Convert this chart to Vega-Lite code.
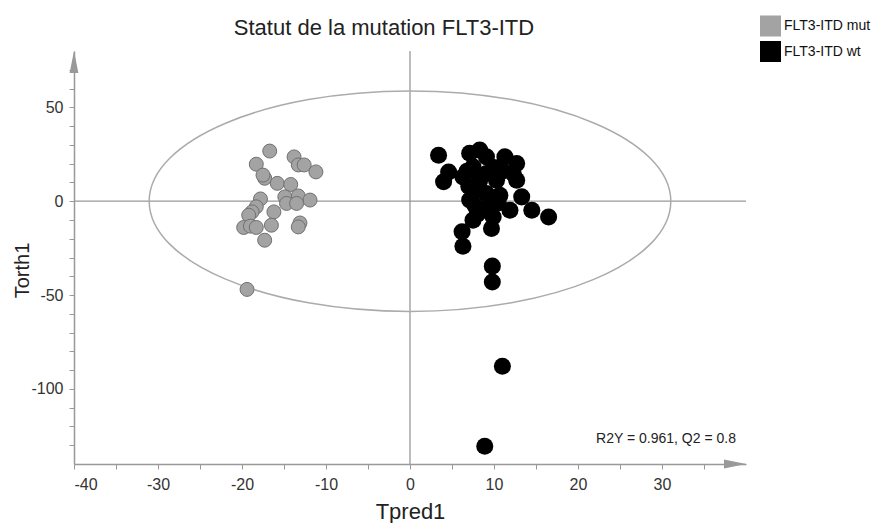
{
  "$schema": "https://vega.github.io/schema/vega-lite/v6.json",
  "width": 672,
  "height": 413,
  "autosize": "none",
  "padding": {"left": 74, "top": 51, "right": 128, "bottom": 59},
  "background": "white",
  "config": {"view": {"stroke": null}, "font": "Liberation Sans"},
  "title": {"text": "Statut de la mutation FLT3-ITD", "font": "Liberation Sans", "fontSize": 22, "fontWeight": "normal", "color": "#222222", "anchor": "middle", "dx": -26, "offset": -24},
  "datasets": {
    "pts": [
      {"x": -16.7, "y": 26.7, "g": "FLT3-ITD mut"},
      {"x": -18.3, "y": 19.7, "g": "FLT3-ITD mut"},
      {"x": -13.8, "y": 23.6, "g": "FLT3-ITD mut"},
      {"x": -13.3, "y": 19.3, "g": "FLT3-ITD mut"},
      {"x": -12.6, "y": 19.3, "g": "FLT3-ITD mut"},
      {"x": -11.2, "y": 15.6, "g": "FLT3-ITD mut"},
      {"x": -17.3, "y": 12.2, "g": "FLT3-ITD mut"},
      {"x": -17.5, "y": 13.9, "g": "FLT3-ITD mut"},
      {"x": -15.8, "y": 9.5, "g": "FLT3-ITD mut"},
      {"x": -14.2, "y": 8.9, "g": "FLT3-ITD mut"},
      {"x": -14.9, "y": 2.3, "g": "FLT3-ITD mut"},
      {"x": -13.3, "y": 2.8, "g": "FLT3-ITD mut"},
      {"x": -11.9, "y": 0.6, "g": "FLT3-ITD mut"},
      {"x": -14.7, "y": -1.2, "g": "FLT3-ITD mut"},
      {"x": -13.5, "y": -1.2, "g": "FLT3-ITD mut"},
      {"x": -17.8, "y": 1.2, "g": "FLT3-ITD mut"},
      {"x": -18.3, "y": -3.0, "g": "FLT3-ITD mut"},
      {"x": -18.8, "y": -5.7, "g": "FLT3-ITD mut"},
      {"x": -19.2, "y": -7.5, "g": "FLT3-ITD mut"},
      {"x": -16.2, "y": -5.7, "g": "FLT3-ITD mut"},
      {"x": -16.5, "y": -12.8, "g": "FLT3-ITD mut"},
      {"x": -19.8, "y": -14.0, "g": "FLT3-ITD mut"},
      {"x": -19.0, "y": -13.3, "g": "FLT3-ITD mut"},
      {"x": -18.3, "y": -14.0, "g": "FLT3-ITD mut"},
      {"x": -17.3, "y": -20.8, "g": "FLT3-ITD mut"},
      {"x": -13.1, "y": -11.6, "g": "FLT3-ITD mut"},
      {"x": -13.3, "y": -13.7, "g": "FLT3-ITD mut"},
      {"x": -19.4, "y": -47.0, "g": "FLT3-ITD mut"},
      {"x": 3.4, "y": 24.5, "g": "FLT3-ITD wt"},
      {"x": 4.6, "y": 15.6, "g": "FLT3-ITD wt"},
      {"x": 4.0, "y": 10.3, "g": "FLT3-ITD wt"},
      {"x": 7.1, "y": 25.5, "g": "FLT3-ITD wt"},
      {"x": 8.3, "y": 27.2, "g": "FLT3-ITD wt"},
      {"x": 9.1, "y": 23.6, "g": "FLT3-ITD wt"},
      {"x": 11.3, "y": 23.6, "g": "FLT3-ITD wt"},
      {"x": 12.7, "y": 20.1, "g": "FLT3-ITD wt"},
      {"x": 12.3, "y": 14.8, "g": "FLT3-ITD wt"},
      {"x": 12.7, "y": 11.2, "g": "FLT3-ITD wt"},
      {"x": 10.3, "y": 11.2, "g": "FLT3-ITD wt"},
      {"x": 7.5, "y": 18.3, "g": "FLT3-ITD wt"},
      {"x": 6.3, "y": 12.9, "g": "FLT3-ITD wt"},
      {"x": 8.3, "y": 11.2, "g": "FLT3-ITD wt"},
      {"x": 7.1, "y": 0.6, "g": "FLT3-ITD wt"},
      {"x": 9.1, "y": 4.1, "g": "FLT3-ITD wt"},
      {"x": 10.7, "y": 3.2, "g": "FLT3-ITD wt"},
      {"x": 11.9, "y": -4.8, "g": "FLT3-ITD wt"},
      {"x": 13.3, "y": 2.3, "g": "FLT3-ITD wt"},
      {"x": 14.5, "y": -4.8, "g": "FLT3-ITD wt"},
      {"x": 16.5, "y": -8.4, "g": "FLT3-ITD wt"},
      {"x": 7.5, "y": -10.1, "g": "FLT3-ITD wt"},
      {"x": 8.7, "y": -4.8, "g": "FLT3-ITD wt"},
      {"x": 9.9, "y": -8.4, "g": "FLT3-ITD wt"},
      {"x": 9.7, "y": -14.5, "g": "FLT3-ITD wt"},
      {"x": 6.2, "y": -16.3, "g": "FLT3-ITD wt"},
      {"x": 6.3, "y": -24.0, "g": "FLT3-ITD wt"},
      {"x": 8.1, "y": 5.9, "g": "FLT3-ITD wt"},
      {"x": 9.1, "y": 14.8, "g": "FLT3-ITD wt"},
      {"x": 7.7, "y": -2.1, "g": "FLT3-ITD wt"},
      {"x": 7.0, "y": 8.0, "g": "FLT3-ITD wt"},
      {"x": 10.0, "y": 18.0, "g": "FLT3-ITD wt"},
      {"x": 8.0, "y": -7.0, "g": "FLT3-ITD wt"},
      {"x": 10.5, "y": -1.0, "g": "FLT3-ITD wt"},
      {"x": 6.8, "y": 16.0, "g": "FLT3-ITD wt"},
      {"x": 9.5, "y": 0.0, "g": "FLT3-ITD wt"},
      {"x": 11.0, "y": 16.0, "g": "FLT3-ITD wt"},
      {"x": 9.8, "y": -34.6, "g": "FLT3-ITD wt"},
      {"x": 9.8, "y": -43.0, "g": "FLT3-ITD wt"},
      {"x": 11.0, "y": -87.9, "g": "FLT3-ITD wt"},
      {"x": 8.9, "y": -130.5, "g": "FLT3-ITD wt"}
    ]
  },
  "encoding": {
    "x": {"field": "x", "type": "quantitative", "scale": {"domain": [-40, 40], "nice": false, "zero": false},
      "axis": {"title": "Tpred1", "titleFont": "Liberation Sans", "titleFontSize": 22, "titleFontWeight": "normal", "titleColor": "#222222", "titlePadding": 9,
        "values": [-40, -35, -30, -25, -20, -15, -10, -5, 0, 5, 10, 15, 20, 25, 30, 35],
        "labelExpr": "datum.value % 10 === 0 ? replace(datum.label, '\u2212', '-') : ''", "labelFont": "Liberation Sans", "labelFontSize": 16, "labelColor": "#333333", "labelPadding": 7,
        "tickSize": 5, "tickColor": "#999999", "domainColor": "#999999", "domainWidth": 1.5, "grid": false}},
    "y": {"field": "y", "type": "quantitative", "scale": {"domain": [-140, 80], "nice": false, "zero": false},
      "axis": {"title": "Torth1", "titleFont": "Liberation Sans", "titleFontSize": 20, "titleFontWeight": "normal", "titleColor": "#222222", "titleX": -52, "titleY": 219, "titleAnchor": "middle", "titleBaseline": "middle", "titleAlign": "center",
        "values": [-130, -120, -110, -100, -90, -80, -70, -60, -50, -40, -30, -20, -10, 0, 10, 20, 30, 40, 50, 60, 70],
        "labelExpr": "datum.value % 50 === 0 ? replace(datum.label, '\u2212', '-') : ''", "labelFont": "Liberation Sans", "labelFontSize": 16, "labelColor": "#333333", "labelPadding": 6,
        "tickSize": 5, "tickColor": "#999999", "domainColor": "#999999", "domainWidth": 1.5, "grid": false}}
  },
  "layer": [
    {
      "data": {"values": [
        {"x": -40, "y": 0, "x2": 40, "y2": 0},
        {"x": 0, "y": -140, "x2": 0, "y2": 80}
      ]},
      "mark": {"type": "rule", "color": "#999999", "strokeWidth": 1.3},
      "encoding": {"x2": {"field": "x2"}, "y2": {"field": "y2"}}
    },
    {
      "data": {"values": [{"x": 0, "y": 0}]},
      "mark": {"type": "point", "shape": "M-1,0C-1,-0.2336,-0.5523,-0.4229,0,-0.4229C0.5523,-0.4229,1,-0.2336,1,0C1,0.2336,0.5523,0.4229,0,0.4229C-0.5523,0.4229,-1,0.2336,-1,0Z", "size": 272067, "filled": false, "stroke": "#ababab", "strokeWidth": 1.5, "opacity": 1}
    },
    {
      "data": {"name": "pts"},
      "transform": [{"filter": "datum.g === 'FLT3-ITD mut'"}],
      "mark": {"type": "point", "shape": "circle", "filled": true, "opacity": 1, "size": 195, "stroke": "#707070", "strokeWidth": 1},
      "encoding": {
        "color": {"field": "g", "type": "nominal", "scale": {"domain": ["FLT3-ITD mut", "FLT3-ITD wt"], "range": ["#a3a3a3", "#000000"]},
          "legend": {"title": null, "orient": "none", "legendX": 686, "legendY": -35.5, "padding": 0, "symbolType": "square", "symbolSize": 441, "symbolStrokeWidth": 0, "symbolOpacity": 1, "labelFont": "Liberation Sans", "labelFontSize": 14, "labelColor": "#111111", "labelOffset": 3, "rowPadding": 4.5, "labelLimit": 200}}
      }
    },
    {
      "data": {"name": "pts"},
      "transform": [{"filter": "datum.g === 'FLT3-ITD wt'"}],
      "mark": {"type": "point", "shape": "circle", "filled": true, "opacity": 1, "size": 290, "strokeWidth": 0},
      "encoding": {
        "color": {"field": "g", "type": "nominal", "scale": {"domain": ["FLT3-ITD mut", "FLT3-ITD wt"], "range": ["#a3a3a3", "#000000"]}}
      }
    },
    {
      "data": {"values": [{"x": 40, "y": -140}]},
      "mark": {"type": "point", "shape": "M0,0L-1,-0.2L-1,0.2Z", "size": 1936, "filled": true, "color": "#999999", "opacity": 1}
    },
    {
      "data": {"values": [{"x": -40, "y": 80}]},
      "mark": {"type": "point", "shape": "M0,0L-0.2,1L0.2,1Z", "size": 1936, "filled": true, "color": "#999999", "opacity": 1}
    },
    {
      "data": {"values": [{"x": 38.8, "y": -128.8, "label": "R2Y = 0.961, Q2 = 0.8"}]},
      "mark": {"type": "text", "align": "right", "baseline": "alphabetic", "font": "Liberation Sans", "fontSize": 14, "color": "#222222"},
      "encoding": {"text": {"field": "label"}}
    }
  ]
}
